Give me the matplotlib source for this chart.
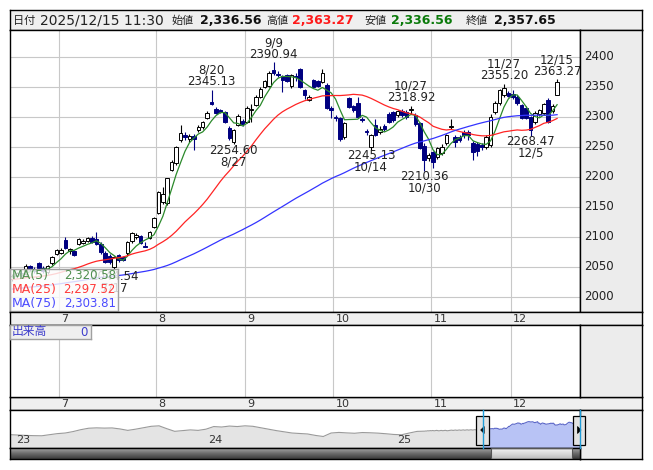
import matplotlib
matplotlib.use("Agg")
import matplotlib.pyplot as plt
import numpy as np
import pandas as pd
from matplotlib.patches import Rectangle, Polygon

plt.rcParams['font.family'] = ['DejaVu Sans', 'Noto Sans CJK JP']

# ---- data ----
holidays = ['2025-07-21', '2025-08-11', '2025-09-15', '2025-09-23',
            '2025-10-13', '2025-11-03', '2025-11-24']
days = [d for d in pd.bdate_range('2025-06-16', '2025-12-15')
        if d.strftime('%Y-%m-%d') not in holidays]
date_labels = [f"{d.month}/{d.day}" for d in days]

opens = [2030, 2035, 2040, 2038, 2052, 2046, 2056, 2048, 2042, 2056, 2072,
         2074, 2095, 2076, 2076, 2088, 2090, 2094, 2098, 2097, 2089, 2074, 2068, 2050, 2070, 2066, 2073, 2093, 2100, 2102, 2085, 2098, 2117,
         2140, 2158, 2157, 2212, 2223, 2262, 2270, 2263, 2268, 2278, 2283, 2298, 2325, 2313, 2312, 2308, 2282, 2259, 2287, 2293,
         2292, 2312, 2320, 2334, 2350, 2352, 2378, 2371, 2368, 2370, 2352, 2368, 2380, 2345, 2328, 2362, 2360, 2359, 2353, 2315,
         2300, 2298, 2267, 2332, 2318, 2323, 2297, 2277, 2250, 2287, 2275, 2285, 2305, 2308, 2303, 2310, 2308, 2312, 2303, 2290, 2252, 2232,
         2242, 2233, 2240, 2257, 2283, 2267, 2267, 2275, 2275, 2257, 2255, 2253, 2250, 2253, 2309, 2323, 2337, 2340,
         2338, 2334, 2320, 2315, 2300, 2292, 2305, 2307, 2328, 2310, 2336.56]
highs = [2038, 2042, 2045, 2055, 2054, 2050, 2059, 2052, 2054, 2068, 2080,
         2081, 2100, 2082, 2078, 2099, 2096, 2100, 2101, 2109, 2091, 2076, 2072, 2068, 2072, 2068, 2093, 2108, 2107, 2104, 2092, 2110, 2134,
         2176, 2184, 2199, 2228, 2252, 2287, 2275, 2272, 2272, 2286, 2294, 2310, 2345.13, 2316, 2314, 2310, 2285, 2280, 2305, 2296,
         2318, 2322, 2336, 2350, 2362, 2376, 2390.94, 2376, 2370, 2372, 2372, 2374, 2382, 2347, 2336, 2364, 2362, 2380, 2356, 2318,
         2304, 2300, 2292, 2334, 2320, 2334, 2300, 2280, 2272, 2297, 2285, 2288, 2308, 2310, 2312, 2313, 2312, 2318.92, 2306, 2292, 2256, 2240,
         2244, 2250, 2255, 2272, 2297, 2270, 2270, 2278, 2278, 2260, 2258, 2256, 2270, 2305, 2326, 2347, 2355.20, 2344,
         2345, 2337, 2322, 2318, 2302, 2310, 2314, 2324, 2332, 2322, 2363.27]
lows = [2026, 2031, 2034, 2036, 2044, 2040, 2046, 2040, 2038, 2054, 2070,
        2071, 2080, 2072, 2068, 2086, 2088, 2092, 2090, 2086, 2072, 2056, 2055, 2044.54, 2058, 2060, 2070, 2090, 2096, 2088, 2083, 2096, 2115,
        2138, 2155, 2154, 2210, 2220, 2258, 2262, 2258, 2245, 2275, 2280, 2296, 2320, 2305, 2306, 2290, 2262, 2254.60, 2285, 2285,
        2290, 2292, 2318, 2332, 2348, 2350, 2370, 2366, 2342, 2358, 2348, 2360, 2348, 2330, 2326, 2348, 2350, 2356, 2313, 2298,
        2293, 2260, 2264, 2315, 2308, 2298, 2292, 2270, 2245.13, 2268, 2272, 2276, 2290, 2292, 2300, 2300, 2296, 2305, 2285, 2246, 2210.36, 2226,
        2215, 2230, 2236, 2254, 2280, 2250, 2258, 2265, 2262, 2228, 2235, 2245, 2246, 2250, 2305, 2320, 2333, 2333,
        2330, 2320, 2296, 2296, 2268.47, 2288, 2302, 2303, 2290, 2306, 2336.56]
closes = [2035, 2040, 2037, 2052, 2046, 2044, 2048, 2043, 2052, 2066, 2078,
          2079, 2082, 2080, 2070, 2097, 2094, 2098, 2092, 2088, 2075, 2058, 2058, 2066, 2062, 2062, 2091, 2106, 2104, 2090, 2084, 2109, 2132,
          2175, 2172, 2198, 2225, 2250, 2274, 2267, 2269, 2264, 2284, 2292, 2307, 2322, 2307, 2309, 2292, 2265, 2278, 2302, 2288,
          2315, 2313, 2334, 2347, 2360, 2373, 2373, 2370, 2362, 2360, 2370, 2366, 2350, 2337, 2334, 2350, 2352, 2373, 2315, 2311,
          2298, 2263, 2290, 2317, 2312, 2300, 2295, 2275, 2270, 2270, 2280, 2280, 2292, 2295, 2310, 2303, 2300, 2313, 2288, 2248, 2228, 2237,
          2225, 2248, 2250, 2270, 2285, 2258, 2262, 2270, 2270, 2242, 2243, 2250, 2267, 2300, 2323, 2345, 2348, 2335,
          2333, 2323, 2298, 2298, 2278, 2307, 2312, 2322, 2292, 2319, 2357.65]

# closes before the window (needed for the moving averages)
prior_close = [1978, 1985, 1981, 1990, 1994, 1988, 1996, 2001, 1993, 1998,
               2004, 1997, 1992, 1999, 2006, 2010, 2003, 1995, 1990, 1998, 2005, 2008, 2001, 1996, 2002, 2009, 2012, 2004, 1998, 1994, 2001, 2007, 2011,
               2015, 2020, 2013, 2008, 2012, 2019, 2024, 2018, 2011, 2016, 2022, 2027, 2021, 2014, 2019, 2025, 2030, 2024, 2017, 2022,
               2028, 2033, 2026, 2020, 2025, 2031, 2036, 2029, 2023, 2027, 2032, 2038, 2031, 2025, 2029, 2034, 2040, 2033, 2028, 2032, 2036]

ma_periods = [5, 25, 75]
ma_names = ['MA(5)', 'MA(25)', 'MA(75)']
ma_last = ['2,320.58', '2,297.52', '2,303.81']
ma_colors = ['#2b8a2b', '#ff2424', '#3434ff']
ma_text_colors = ['#4f8f4f', '#ff3c3c', '#4a4aff']

marks = [(23, 'low'), (45, 'high'), (50, 'low'), (59, 'high'), (81, 'low'),
         (90, 'high'), (93, 'low'), (111, 'high'), (117, 'low'), (123, 'high')]

price_ticks = [2000, 2050, 2100, 2150, 2200, 2250, 2300, 2350, 2400]

# navigator history, one value every 10 trading days
nav_hist = [1830, 1815, 1800, 1790, 1785, 1830, 1875, 1900, 1960, 2040,
            2100, 2115, 2105, 2112, 2070, 2010, 2060, 2120, 2180, 2200,
            2080, 1970, 2000, 2030, 2010, 2060, 2170, 2150, 2190, 2170,
            2200, 2180, 2120, 2060, 2000, 1950, 1900, 1880, 1860, 1800,
            1755, 1900, 1925, 1905, 1890, 1920, 1910, 1895, 1870, 1840,
            1827, 1900, 1968]
nav_hist_start = -604
year_labels = ['23', '24', '25']
year_idx = [-601, -355, -114]

header_labels = ['日付', '始値', '高値', '安値', '終値']
header_values = ['2025/12/15 11:30', '2,336.56', '2,363.27', '2,336.56', '2,357.65']
header_colors = ['#222222', '#111111', '#ff1a1a', '#0a7a0a', '#111111']

# ---- figure ----
W, H = 653, 470
fig = plt.figure(figsize=(W / 100, H / 100), dpi=100)


def add_ax(x0, y0, x1, y1, fc='white'):
    a = fig.add_axes([x0 / W, 1 - y1 / H, (x1 - x0) / W, (y1 - y0) / H], facecolor=fc)
    a.set_xticks([])
    a.set_yticks([])
    for s in a.spines.values():
        s.set_color('black')
        s.set_linewidth(1.0)
    return a


def fy(y):
    return 1 - y / H


n = len(closes)
x = np.arange(n)
o = np.array(opens); h = np.array(highs); l = np.array(lows); c = np.array(closes)
month_starts = [i for i in range(1, n) if days[i].month != days[i - 1].month]
month_starts = [0] + month_starts
month_names = [str(days[i].month) for i in month_starts]

# header
hdr = add_ax(10, 10, 642, 30, fc='#efefef')
lab_x = [13, 172, 266, 364, 466]
val_x = [40, 200, 292, 391, 494]
for k in range(5):
    fig.text(lab_x[k] / W, fy(20.5), header_labels[k], fontsize=8, color='#222222',
             va='center', ha='left')
    fig.text(val_x[k] / W, fy(20), header_values[k], fontsize=10 if k == 0 else 9,
             fontweight='normal' if k == 0 else 'bold', color=header_colors[k],
             va='center', ha='left')

# main price chart
ax = add_ax(10, 30, 580, 312)
ax.set_xlim(-0.5, 128.17)
ax.set_ylim(1975, 2445)
for p in price_ticks:
    ax.axhline(p, color='#c8c8c8', lw=0.8, zorder=1)
for i in month_starts[1:]:
    ax.axvline(i - 0.5, color='#c8c8c8', lw=0.8, zorder=1)

up = c >= o
wick_col = np.where(up, 'black', '#000080')
ax.vlines(x, l, h, colors=wick_col, lw=0.8, zorder=3)
body = np.maximum(np.abs(c - o), 0.4)
ax.bar(x, body, bottom=np.minimum(o, c), width=0.8,
       color=np.where(up, 'white', '#000080'),
       edgecolor=np.where(up, 'black', '#000080'), linewidth=0.7, zorder=4)

full = pd.Series(prior_close + closes, dtype=float)
for p, col in zip(ma_periods, ma_colors):
    ma = full.rolling(p).mean().values[-n:]
    ax.plot(x, ma, color=col, lw=0.9, zorder=5)

for i, kind in marks:
    if kind == 'high':
        val, offs = h[i], (8, 19.5)
    else:
        val, offs = l[i], (-6, -17.5)
    for txt, dy in zip([f"{val:.2f}", date_labels[i]], offs):
        t = ax.annotate(txt, (i, val), xytext=(0, dy), textcoords='offset pixels',
                        ha='center', va='center', fontsize=8.5, color='#222222',
                        zorder=6, annotation_clip=False)
        t.set_clip_path(ax.patch)

right = add_ax(580, 30, 642, 312, fc='#ececec')
right.set_ylim(1975, 2445)
for p in price_ticks:
    right.text(0.07, p, str(p), transform=right.get_yaxis_transform(),
               fontsize=8.5, color='#222222', va='center', ha='left')

# MA legend box (drawn over the chart, as in the app)
leg = add_ax(10, 269, 118, 311, fc=(0.99, 0.99, 0.99, 0.82))
for s in leg.spines.values():
    s.set_color('#a0a0a0')
for k in range(3):
    yy = [276, 289.5, 304][k]
    fig.text(12 / W, fy(yy), ma_names[k], fontsize=9, color=ma_text_colors[k], va='center')
    fig.text(116 / W, fy(yy), ma_last[k], fontsize=8.5, color=ma_text_colors[k],
             va='center', ha='right')

# date strips
for (y0, y1) in [(312, 325), (397, 410)]:
    add_ax(10, y0, 642, y1, fc='#efefef')
    for i, name in zip(month_starts[1:], month_names[1:]):
        xp = ax.transData.transform((i - 0.5, 2000))[0]
        fig.text((xp + 2.5) / W, fy((y0 + y1) / 2 + 0.5), name, fontsize=8,
                 color='#333333', va='center', ha='left')

# volume panel
vol = add_ax(10, 325, 580, 397)
vol.set_xlim(-0.5, 128.17)
for i in month_starts[1:]:
    vol.axvline(i - 0.5, color='#c8c8c8', lw=0.8)
add_ax(580, 325, 642, 397, fc='#ececec')
vbox = add_ax(10, 325, 91, 339, fc='#efefef')
for s in vbox.spines.values():
    s.set_color('#a0a0a0')
fig.text(12 / W, fy(332), '出来高', fontsize=8.5, color='#3c3ccc', va='center')
fig.text(88 / W, fy(332), '0', fontsize=8.5, color='#3c3ccc', va='center', ha='right')

# navigator
nav = add_ax(10, 410, 580, 448)
nav.set_xlim(-604.6, 124.3)
nav.set_ylim(1275, 2860)
hist_idx = nav_hist_start + 10 * np.arange(len(nav_hist))
pre_idx = np.arange(-len(prior_close), 0)
g_idx = np.concatenate([hist_idx, pre_idx, [0]])
g_val = np.concatenate([nav_hist, prior_close, [closes[0]]])
nav.fill_between(g_idx, g_val, 1275, color='#e4e4e4', lw=0)
nav.plot(g_idx, g_val, color='#9a9a9a', lw=0.8)
nav.fill_between(x, c, 1275, color='#b8c3f5', lw=0)
nav.plot(x, c, color='#5a66c8', lw=0.8)
for yi, yl in zip(year_idx, year_labels):
    xp = nav.transData.transform((yi, 2000))[0]
    fig.text((xp + 3) / W, fy(440), yl, fontsize=8, color='#333333', va='center')
add_ax(580, 410, 642, 459, fc='#ececec')

# scrollbar
sc = add_ax(10, 448, 580, 459)
grad = np.linspace(0, 1, 20)[:, None]
sc.imshow(grad, extent=(10, 580, 459, 448), cmap=matplotlib.colors.LinearSegmentedColormap.from_list(
    'tr', ['#a4a4a4', '#6a6a6a', '#3c3c3c']), aspect='auto', zorder=1)
sc.imshow(grad, extent=(491, 572, 459, 448), cmap=matplotlib.colors.LinearSegmentedColormap.from_list(
    'th', ['#f4f4f4', '#dadada', '#bcbcbc']), aspect='auto', zorder=2)
sc.add_patch(Rectangle((491, 448), 81, 11, fill=False, ec='#555555', lw=0.8, zorder=3))
sc.set_xlim(10, 580)
sc.set_ylim(459, 448)

# navigator handles
ui = fig.add_axes([10 / W, 1 - 462 / H, 632 / W, 57 / H], facecolor='none')
ui.set_xlim(10, 642)
ui.set_ylim(462, 405)
ui.axis('off')
for xe in [482.5, 579.5]:
    ui.plot([xe, xe], [410, 448], color='#1e9bd7', lw=1.0)
for xc, d in [(482.7, -1), (579, 1)]:
    ui.add_patch(Rectangle((xc - 6.3, 415.5), 12.6, 29, fc='#e2e2e2', ec='black', lw=0.9))
    ui.add_patch(Polygon([(xc + 2 * d, 430), (xc - 1.5 * d, 426.5), (xc - 1.5 * d, 433.5)],
                         closed=True, fc='black', ec='black', lw=0.5))

fig.savefig('out.png', dpi=100)
